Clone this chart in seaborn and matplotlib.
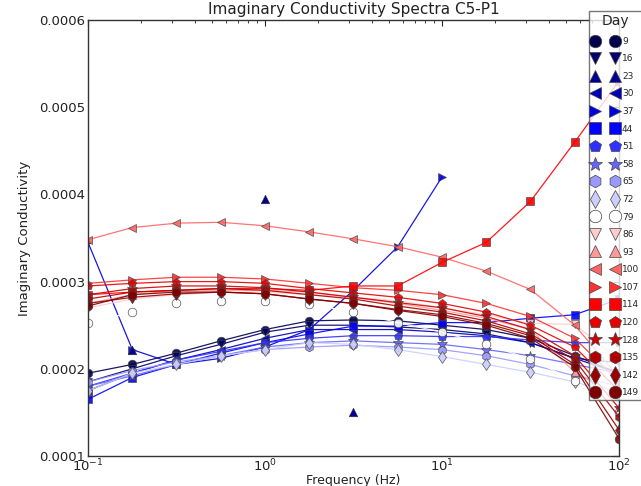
import numpy as np
import pandas as pd
import matplotlib
matplotlib.use("Agg")
import matplotlib.pyplot as plt
from matplotlib.lines import Line2D
from matplotlib.ticker import FixedLocator, FormatStrFormatter
import seaborn as sns

freq = [0.1, 0.178, 0.316, 0.562, 1.0, 1.78, 3.16, 5.62, 10.0, 17.8, 31.6, 56.2, 100.0]
days = [9, 16, 23, 30, 37, 44, 51, 58, 65, 72, 79, 86, 93, 100, 107, 114, 120, 128, 135, 142, 149]
markers = ['o', 'v', '^', '<', '>', 's', 'p', '*', 'h', 'd',
           'o', 'v', '^', '<', '>', 's', 'p', '*', 'h', 'd', 'o']
nan = np.nan
# values in units of 1e-4
d9 = [1.95, 2.05, 2.18, 2.32, 2.45, 2.55, 2.56, 2.55, 2.5, 2.45, 2.35, 2.15, 1.95]
d16 = [1.85, 2.0, 2.15, 2.28, 2.42, 2.5, 2.5, 2.48, 2.45, 2.4, 2.3, 2.12, 2.07]
d23 = [nan, 2.22, nan, nan, 3.95, nan, 1.5, nan, nan, nan, nan, nan, nan]
d30 = [1.75, 1.95, 2.1, 2.22, 2.35, 2.45, 2.45, 2.45, 2.42, 2.38, 2.3, 2.12, 1.95]
d37 = [3.45, 2.22, 2.05, 2.12, 2.25, 2.45, 2.9, 3.4, 4.2, nan, nan, nan, nan]
d44 = [1.65, 1.9, 2.05, 2.18, 2.3, 2.4, 2.49, 2.49, 2.53, 2.53, 2.58, 2.62, 2.8]
d51 = [1.8, 1.95, 2.1, 2.2, 2.3, 2.35, 2.38, 2.38, 2.37, 2.37, 2.33, 2.3, 2.3]
d58 = [1.8, 1.92, 2.05, 2.15, 2.25, 2.3, 2.32, 2.3, 2.28, 2.22, 2.15, 2.05, 1.95]
d65 = [1.85, 1.98, 2.08, 2.15, 2.22, 2.25, 2.27, 2.25, 2.22, 2.15, 2.05, 1.92, 1.8]
d72 = [1.75, 1.95, 2.05, 2.15, 2.22, 2.3, 2.28, 2.22, 2.14, 2.05, 1.96, 1.85, 1.7]
d79 = [2.52, 2.65, 2.75, 2.78, 2.78, 2.74, 2.65, 2.53, 2.42, 2.28, 2.11, 1.86, 1.5]
d86 = [2.7, 2.8, 2.85, 2.88, 2.88, 2.85, 2.82, 2.78, 2.7, 2.62, 2.52, 2.51, 2.1]
d93 = [2.75, 2.85, 2.9, 2.9, 2.9, 2.88, 2.82, 2.75, 2.67, 2.58, 2.45, 1.96, 1.7]
d100 = [3.48, 3.62, 3.67, 3.68, 3.64, 3.57, 3.49, 3.4, 3.28, 3.12, 2.91, 2.5, 1.9]
d107 = [2.98, 3.02, 3.05, 3.05, 3.03, 2.98, 2.93, 2.9, 2.85, 2.75, 2.6, 2.35, 1.85]
d114 = [2.85, 2.88, 2.9, 2.92, 2.92, 2.9, 2.95, 2.95, 3.22, 3.45, 3.92, 4.6, 5.3]
d120 = [2.95, 2.98, 3.0, 3.0, 2.98, 2.92, 2.87, 2.82, 2.75, 2.65, 2.5, 2.25, 1.75]
d128 = [2.85, 2.92, 2.95, 2.95, 2.93, 2.88, 2.82, 2.76, 2.7, 2.6, 2.45, 2.15, 1.55]
d135 = [2.8, 2.88, 2.9, 2.92, 2.9, 2.85, 2.8, 2.72, 2.65, 2.55, 2.4, 2.1, 1.45]
d142 = [2.75, 2.82, 2.86, 2.88, 2.86, 2.8, 2.75, 2.68, 2.62, 2.52, 2.38, 2.05, 1.3]
d149 = [2.72, 2.85, 2.88, 2.88, 2.86, 2.8, 2.75, 2.67, 2.6, 2.5, 2.35, 2.02, 1.2]
series = [d9, d16, d23, d30, d37, d44, d51, d58, d65, d72, d79,
          d86, d93, d100, d107, d114, d120, d128, d135, d142, d149]

sns.set_style("white")
plt.rcParams['font.family'] = ['DejaVu Sans']

fig = plt.figure(figsize=(6.41, 4.86), dpi=100)
ax = fig.add_axes([88/641, 1-456/486, (619-88)/641, (456-20)/486])

cmap = plt.get_cmap('seismic')
colors = [cmap(i/20) for i in range(21)]

handles = []
for i, (day, vals) in enumerate(zip(days, series)):
    df = pd.DataFrame({'f': freq, 'v': np.array(vals, dtype=float) * 1e-4})
    c = colors[i]
    if day == 23:
        sns.scatterplot(data=df.dropna(), x='f', y='v', color=c, marker=markers[i],
                        s=38, edgecolor='#333333', linewidth=0.4, ax=ax, legend=False, zorder=3)
    else:
        sns.lineplot(data=df.dropna(), x='f', y='v', color=c, marker=markers[i],
                     markersize=6.2 if markers[i] != '*' else 7.5, markeredgecolor='#444444',
                     markeredgewidth=0.5, linewidth=0.9, alpha=0.9, ax=ax, legend=False,
                     estimator=None, sort=False, zorder=2)
    handles.append(Line2D([], [], linestyle='none', marker=markers[i], color=c,
                          markeredgecolor='#444444', markeredgewidth=0.5,
                          markersize=9 if markers[i] != '*' else 10.5, label=str(day)))

ax.set_xscale('log')
ax.set_xlim(0.1, 100)
ax.set_ylim(0.0001, 0.0006)
ax.yaxis.set_major_locator(FixedLocator([0.0001, 0.0002, 0.0003, 0.0004, 0.0005, 0.0006]))
ax.yaxis.set_major_formatter(FormatStrFormatter('%.4f'))
ax.tick_params(which='both', direction='in', top=True, right=True, labelsize=9.5,
               colors='#222222', pad=2)
ax.tick_params(axis='x', pad=1)
ax.tick_params(which='major', length=4)
ax.tick_params(which='minor', length=2)
for sp in ax.spines.values():
    sp.set_color('#333333')
    sp.set_linewidth(1.0)
ax.set_xlabel('Frequency (Hz)', fontsize=9, color='#222222', labelpad=0)
ax.set_ylabel('Imaginary Conductivity', fontsize=9.5, color='#222222', labelpad=6)
ax.set_title('Imaginary Conductivity Spectra C5-P1', fontsize=11, color='#222222', pad=4)

leg = fig.legend(handles=handles, title='Day', loc='upper left',
                 bbox_to_anchor=(589/641, 1-11/486), numpoints=2, fontsize=6.5,
                 title_fontsize=10, labelspacing=0.95, handlelength=2.8,
                 handletextpad=0.5, borderpad=0.35, frameon=True, fancybox=False,
                 borderaxespad=0)
leg.get_frame().set_edgecolor('#555555')
leg.get_frame().set_linewidth(1.0)
leg.set_zorder(5)

fig.savefig('out.png', dpi=100)
